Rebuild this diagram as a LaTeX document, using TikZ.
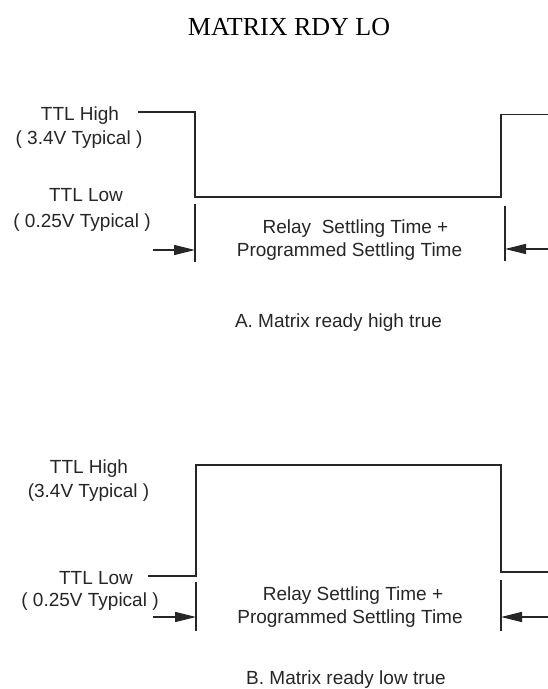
\documentclass[tikz,border=0pt]{standalone}
\usepackage{fontspec}
\setmainfont{Liberation Sans}
\newfontfamily\titlefont{Liberation Serif}
\usetikzlibrary{arrows.meta}
\begin{document}
\begin{tikzpicture}[x=1pt,y=-1pt,
  wave/.style={line width=1.3pt, draw=black!85},
  tickline/.style={line width=1.1pt, draw=black!85},
  dimarrow/.style={line width=1.4pt, draw=black!85, -{Triangle[length=21pt,width=10pt]}},
  lbl/.style={font=\fontsize{19}{22}\selectfont, text=black!85, inner sep=0pt, anchor=base},
]
\useasboundingbox (0,0) rectangle (548,689);
\fill[white] (0,0) rectangle (548,689);

% title
\node[anchor=base, inner sep=0pt, font=\titlefont\fontsize{26}{30}\selectfont] (title) at (289,35) {MATRIX RDY LO};

% ---------- A ----------
\node[lbl] (ah)  at (80,120)  {TTL High};
\node[lbl] (ahv) at (79,144)  {( 3.4V Typical )};
\node[lbl] (al)  at (86,201)  {TTL Low};
\node[lbl] (alv) at (82,227)  {( 0.25V Typical )};
\node[lbl] (at1) at (355.5,233) {Relay\ \ Settling Time +};
\node[lbl] (at2) at (349.5,256) {Programmed Settling Time};
\node[lbl] (acap) at (338.5,327) {A. Matrix ready high true};

\coordinate (a0) at (138,112);
\coordinate (a1) at (195,112);
\coordinate (a2) at (195,197);
\coordinate (a3) at (501,197);
\coordinate (a4) at (501,114.5);
\coordinate (a5) at (548,114.5);
\draw[wave] (a0) -- (a1) -- (a2) -- (a3) -- (a4) -- (a5);

\coordinate (am1t) at (195,204);
\coordinate (am1b) at (195,262);
\draw[tickline] (am1t) -- (am1b);
\coordinate (aa1s) at (153,250);
\coordinate (aa1e) at (195,250);
\draw[dimarrow] (aa1s) -- (aa1e);

\coordinate (am2t) at (505,206);
\coordinate (am2b) at (505,261);
\draw[tickline] (am2t) -- (am2b);
\coordinate (aa2s) at (548,249);
\coordinate (aa2e) at (505,249);
\draw[dimarrow] (aa2s) -- (aa2e);

% ---------- B ----------
\node[lbl] (bh)  at (89,473)  {TTL High};
\node[lbl] (bhv) at (88.5,497) {(3.4V Typical )};
\node[lbl] (bl)  at (96,584)  {TTL Low};
\node[lbl] (blv) at (90,606)  {( 0.25V Typical )};
\node[lbl] (bt1) at (353,600) {Relay Settling Time +};
\node[lbl] (bt2) at (350,623) {Programmed Settling Time};
\node[lbl] (bcap) at (346,684) {B. Matrix ready low true};

\coordinate (b0) at (148,576);
\coordinate (b1) at (196,576);
\coordinate (b2) at (196,465);
\coordinate (b3) at (501,465);
\coordinate (b4) at (501,572);
\coordinate (b5) at (548,572);
\draw[wave] (b0) -- (b1) -- (b2) -- (b3) -- (b4) -- (b5);

\coordinate (bm1t) at (196,582);
\coordinate (bm1b) at (196,631);
\draw[tickline] (bm1t) -- (bm1b);
\coordinate (ba1s) at (153,617);
\coordinate (ba1e) at (196,617);
\draw[dimarrow] (ba1s) -- (ba1e);

\coordinate (bm2t) at (501,580);
\coordinate (bm2b) at (501,631);
\draw[tickline] (bm2t) -- (bm2b);
\coordinate (ba2s) at (548,617);
\coordinate (ba2e) at (501,617);
\draw[dimarrow] (ba2s) -- (ba2e);
\end{tikzpicture}
\end{document}
